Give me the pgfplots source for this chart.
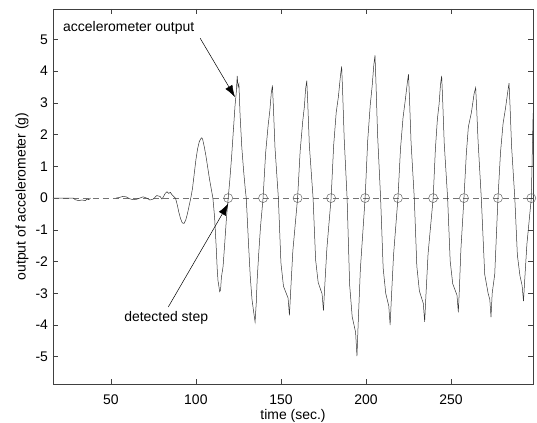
\documentclass[border=0pt]{standalone}
\usepackage{fontspec}
\setmainfont{Liberation Sans}
\usepackage{pgfplots}
\pgfplotsset{compat=1.18}
\usetikzlibrary{arrows.meta}

\begin{document}
\begin{tikzpicture}[x=1bp,y=1bp]
\begin{axis}[
  at={(0,0)}, anchor=south west,
  scale only axis, width=480bp, height=375bp,
  xmin=16, xmax=298.2, ymin=-5.86, ymax=5.96,
  xtick={50,100,150,200,250}, ytick={-5,-4,-3,-2,-1,0,1,2,3,4,5},
  tick align=inside, major tick length=5bp,
  axis line style={black!75, line width=0.6bp},
  tick style={black!75, line width=0.5bp},
  /pgf/number format/assume math mode=true,
  tick label style={font=\fontsize{14}{16}\selectfont},
  yticklabel style={xshift=-1.5bp},
  xticklabel style={yshift=-7.5bp},
  xlabel={time (sec.)}, ylabel={output of accelerometer (g)},
  label style={font=\fontsize{14}{16}\selectfont},
  xlabel style={at={(axis description cs:0.5,-0.085)}, anchor=center},
  ylabel style={at={(axis description cs:-0.0646,0.5)}, anchor=center},
  clip=true,
]
% zero (dashed) line
\addplot[black!55, line width=0.5bp, dash pattern=on 6bp off 4bp] coordinates {(16,0) (298.2,0)};
% early flat part
\addplot[black!80, line width=0.5bp] coordinates {
(16,0)(28,0)(29,-0.05)(31,-0.08)(33,-0.06)(35,-0.08)(36,-0.03)(37,-0.05)(38,0)};
% accelerometer output
\addplot[black!80, line width=0.5bp] coordinates {
(53,0.0)(55,0.02)(57,0.05)(59,0.04)(61,-0.02)(63,-0.05)(65,-0.04)(67,0.0)(69,0.04)(71,0.0)(73,-0.06)(75,-0.03)(77,0.08)(79,0.05)(80,-0.03)(81,0.05)(82,0.15)(83,0.2)(84,0.15)(85,0.18)(86,0.1)(87,0.05)(88,0.0)(89,-0.2)(90,-0.45)(91,-0.65)(92,-0.78)(93,-0.8)(94,-0.7)(95,-0.5)(96,-0.25)(97,0.0)
(98,0.3)(99,0.75)(100,1.2)(101,1.55)(102,1.78)(103,1.88)(103.5,1.9)(104,1.85)(105,1.6)(106,1.3)(107,0.95)(108,0.6)(109,0.3)(110,0.0)(111,-0.6)(112,-1.6)(112.5,-2.2)(113,-2.6)(114,-2.95)(114.5,-2.9)(115,-2.5)(116,-2.15)(117,-1.4)(118,-0.6)(119,0.0)
(120,0.6)(121,1.3)(122,2.1)(123,2.9)(123.7,3.3)(124.3,3.85)(124.8,3.5)(125.3,3.6)(126,2.6)(127,1.6)(128,0.9)(129,0.3)(129.6,0.0)(130,-0.4)(131,-1.5)(132,-2.5)(133,-3.2)(134,-3.6)(134.8,-3.9)(135.5,-3.3)(136,-2.6)(137,-1.7)(138,-0.9)(139.5,0.0)
(141,1.42)(142.5,2.3)(143.5,2.77)(144.3,3.3)(145,3.55)(145.6,2.84)(146.5,1.6)(148.5,0)(150,-2.04)(151.5,-2.78)(154.2,-3.15)(155,-3.7)(155.7,-2.96)(157,-1.67)(159.8,0)
(161.3,1.48)(162.8,2.41)(163.8,2.89)(164.5,3.44)(165.2,3.7)(165.8,2.96)(166.7,1.67)(168.9,0)(170.4,-1.95)(171.9,-2.66)(174.2,-3.02)(175,-3.55)(175.7,-2.84)(177,-1.6)(179.5,0)
(181,1.66)(182.5,2.7)(183.8,3.2)(185,3.86)(185.7,4.15)(186.3,3.32)(187.2,1.87)(188.9,0)(190.4,-2.74)(191.9,-3.74)(193.9,-4.23)(194.7,-4.98)(195.4,-3.98)(196.7,-2.24)(199.5,0)
(201,1.8)(202.5,2.93)(203.6,3.51)(204.6,4.19)(205.3,4.5)(205.9,3.6)(206.8,2.03)(208.6,0)(210.1,-2.2)(211.6,-3.0)(213.4,-3.4)(214.2,-4.0)(214.9,-3.2)(216.2,-1.8)(218.8,0)
(220.3,1.56)(221.8,2.54)(223,3.04)(224.3,3.63)(225,3.9)(225.6,3.12)(226.5,1.76)(228.4,0)(229.9,-2.15)(231.4,-2.93)(233.7,-3.32)(234.5,-3.9)(235.2,-3.12)(236.5,-1.76)(239.5,0)
(240.8,1.54)(242,2.5)(243,2.97)(243.8,3.58)(244.5,3.85)(245.1,3.08)(246,1.73)(248,0)(249.5,-1.98)(251,-2.7)(253.5,-3.06)(254.3,-3.6)(254.9,-2.88)(255.8,-1.62)(257.6,0)
(259,1.4)(260.2,2.25)(262,2.7)(263.6,3.3)(264.5,3.48)(265.1,2.8)(265.9,1.8)(267.8,0)(269.8,-2.4)(271.8,-3.0)(272.8,-3.2)(273.5,-3.75)(274.2,-3.0)(275.7,-2.4)(277.6,0)
(279.1,1.45)(280.6,2.35)(282,2.82)(283.4,3.37)(284.1,3.62)(284.7,2.9)(285.6,1.63)(287.5,0)(289,-1.79)(290.5,-2.44)(291.8,-2.76)(292.6,-3.25)(293.3,-2.6)(294.6,-1.46)(297.2,0)(298.2,2.5)(299,3.5)};
% detected steps
\addplot[only marks, mark=o, mark size=4.5bp, mark options={draw=black!60, line width=0.5bp}] coordinates {
(119,0)(139.5,0)(159.8,0)(179.5,0)(199.5,0)(218.8,0)(239.5,0)(257.6,0)(277.6,0)(297.2,0)};
% annotations
\node[anchor=west, font=\fontsize{14}{16}\selectfont, inner sep=0pt] at (axis cs:21.9,5.36) {accelerometer output};
\draw[black, line width=0.5bp, -{Latex[length=12bp,width=8bp]}] (axis cs:102.5,5.04) -- (axis cs:123,3.18);
\node[anchor=west, font=\fontsize{14}{16}\selectfont, inner sep=0pt] at (axis cs:57.8,-3.79) {detected step};
\draw[black, line width=0.5bp, -{Latex[length=12bp,width=8bp]}] (axis cs:83.8,-3.43) -- (axis cs:119.1,-0.17);
\end{axis}
\pgfresetboundingbox
\useasboundingbox (-53bp,-39bp) rectangle (484bp,384bp);
\end{tikzpicture}
\end{document}
